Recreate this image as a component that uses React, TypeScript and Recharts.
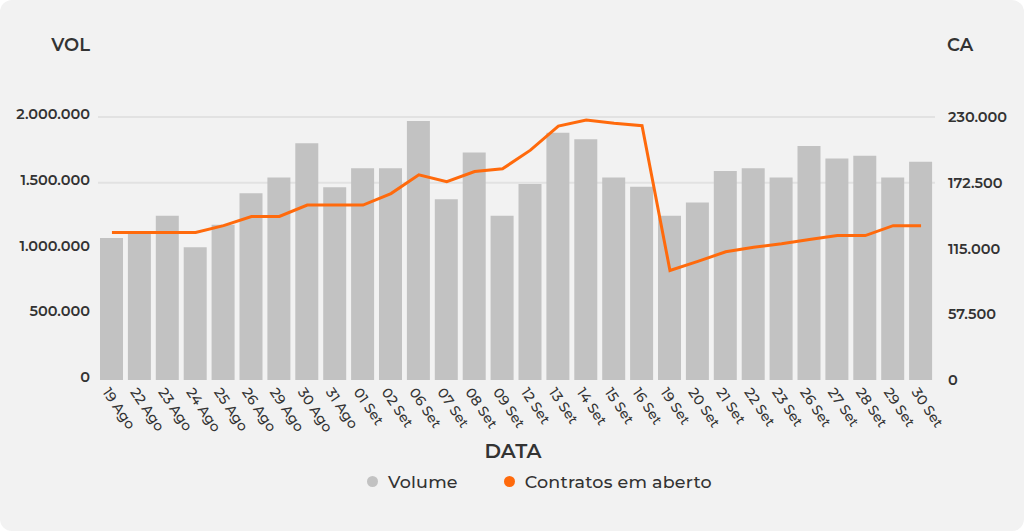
import { ComposedChart, Bar, Line, XAxis, YAxis, CartesianGrid, Legend } from "recharts";

const dates = [
  "19 Ago", "22 Ago", "23 Ago", "24 Ago", "25 Ago", "26 Ago", "29 Ago", "30 Ago", "31 Ago", "01 Set",
  "02 Set", "06 Set", "07 Set", "08 Set", "09 Set", "12 Set", "13 Set", "14 Set", "15 Set", "16 Set",
  "19 Set", "20 Set", "21 Set", "22 Set", "23 Set", "26 Set", "27 Set", "28 Set", "29 Set", "30 Set",
];

const volume = [
  1080000, 1115000, 1250000, 1010000, 1180000, 1420000, 1540000, 1800000, 1465000, 1610000,
  1610000, 1970000, 1375000, 1730000, 1250000, 1490000, 1880000, 1830000, 1540000, 1470000,
  1250000, 1350000, 1590000, 1610000, 1540000, 1780000, 1685000, 1705000, 1540000, 1660000,
];

const contratos = [
  129000, 129000, 129000, 129000, 135000, 143000, 143000, 153000, 153000, 153000,
  163000, 179500, 173500, 182300, 184700, 201000, 222000, 227400, 224500, 222400,
  95800, 103700, 112100, 116100, 119100, 122800, 126300, 126300, 135000, 135000,
];

const volTicks = [0, 500000, 1000000, 1500000, 2000000];
const caTicks = [0, 57500, 115000, 172500, 230000];
const legendOrder = ["Volume", "Contratos em aberto"];

const chartData = dates.map((d, i) => ({ data: d, volume: volume[i], ca: contratos[i] }));

const FONT = "Montserrat, 'Open Sans', sans-serif";
const TEXT = "#333333";

const fmt = (v: number) => String(v).replace(/\B(?=(\d{3})+(?!\d))/g, ".");

function DateTick({ x, y, payload }: any) {
  return (
    <text
      transform={`translate(${x - 10},${y + 4}) rotate(56)`}
      textAnchor="start"
      fontSize={14}
      fontWeight={500}
      fill={TEXT}
      fontFamily={FONT}
    >
      {payload.value}
    </text>
  );
}

function renderLegend(props: any) {
  const items = [...props.payload].sort(
    (a: any, b: any) => legendOrder.indexOf(a.value) - legendOrder.indexOf(b.value)
  );
  return (
    <div style={{ display: "flex", gap: 46, fontFamily: FONT }}>
      {items.map((e: any) => (
        <div key={e.value} style={{ display: "flex", alignItems: "center" }}>
          <span
            style={{ width: 11, height: 11, borderRadius: "50%", background: e.color, marginRight: 10 }}
          />
          <span style={{ fontSize: 17.5, fontWeight: 500, letterSpacing: 0.2, color: TEXT }}>{e.value}</span>
        </div>
      ))}
    </div>
  );
}

export default function App() {
  return (
    <div
      style={{
        position: "absolute",
        left: 0,
        top: 0,
        width: 1024,
        height: 531,
        background: "#f2f2f2",
        borderRadius: 12,
        fontFamily: FONT,
      }}
    >
      <div style={{ position: "absolute", right: 1024 - 90, top: 34, fontSize: 18, fontWeight: 600, color: TEXT }}>
        VOL
      </div>
      <div style={{ position: "absolute", left: 947, top: 34, fontSize: 18, fontWeight: 600, color: TEXT }}>CA</div>
      <div
        style={{
          position: "absolute",
          left: 0,
          width: 1026,
          top: 439,
          textAlign: "center",
          fontSize: 20,
          fontWeight: 600,
          color: TEXT,
        }}
      >
        DATA
      </div>
      <ComposedChart
        width={1024}
        height={531}
        data={chartData}
        margin={{ top: 117, right: 0, bottom: 0, left: 0 }}
      >
        <CartesianGrid
          yAxisId="vol"
          vertical={false}
          horizontalValues={[1500000, 2000000]}
          stroke="#e2e2e2"
          strokeWidth={2}
        />
        <XAxis dataKey="data" height={130} axisLine={false} tickLine={false} interval={0} tick={<DateTick />} />
        <YAxis
          yAxisId="vol"
          orientation="left"
          width={98}
          domain={[0, 2000000]}
          ticks={volTicks}
          tickFormatter={fmt}
          axisLine={false}
          tickLine={false}
          tickSize={0}
          tickMargin={8}
          tick={{ fill: TEXT, fontSize: 14.5, fontWeight: 600, fontFamily: FONT, dy: -3 }}
        />
        <YAxis
          yAxisId="ca"
          orientation="right"
          width={89}
          domain={[0, 230000]}
          ticks={caTicks}
          tickFormatter={fmt}
          axisLine={false}
          tickLine={false}
          tickSize={0}
          tickMargin={13}
          tick={{ fill: TEXT, fontSize: 14.5, fontWeight: 600, fontFamily: FONT }}
        />
        <Legend
          verticalAlign="bottom"
          content={renderLegend}
          wrapperStyle={{ left: 367, top: 471, width: "auto", bottom: "auto" }}
        />
        <Bar yAxisId="vol" dataKey="volume" name="Volume" fill="#c2c2c2" barSize={23} isAnimationActive={false} />
        <Line
          yAxisId="ca"
          dataKey="ca"
          name="Contratos em aberto"
          type="linear"
          stroke="#ff6a0c"
          strokeWidth={3}
          dot={false}
          activeDot={false}
          isAnimationActive={false}
        />
      </ComposedChart>
    </div>
  );
}
